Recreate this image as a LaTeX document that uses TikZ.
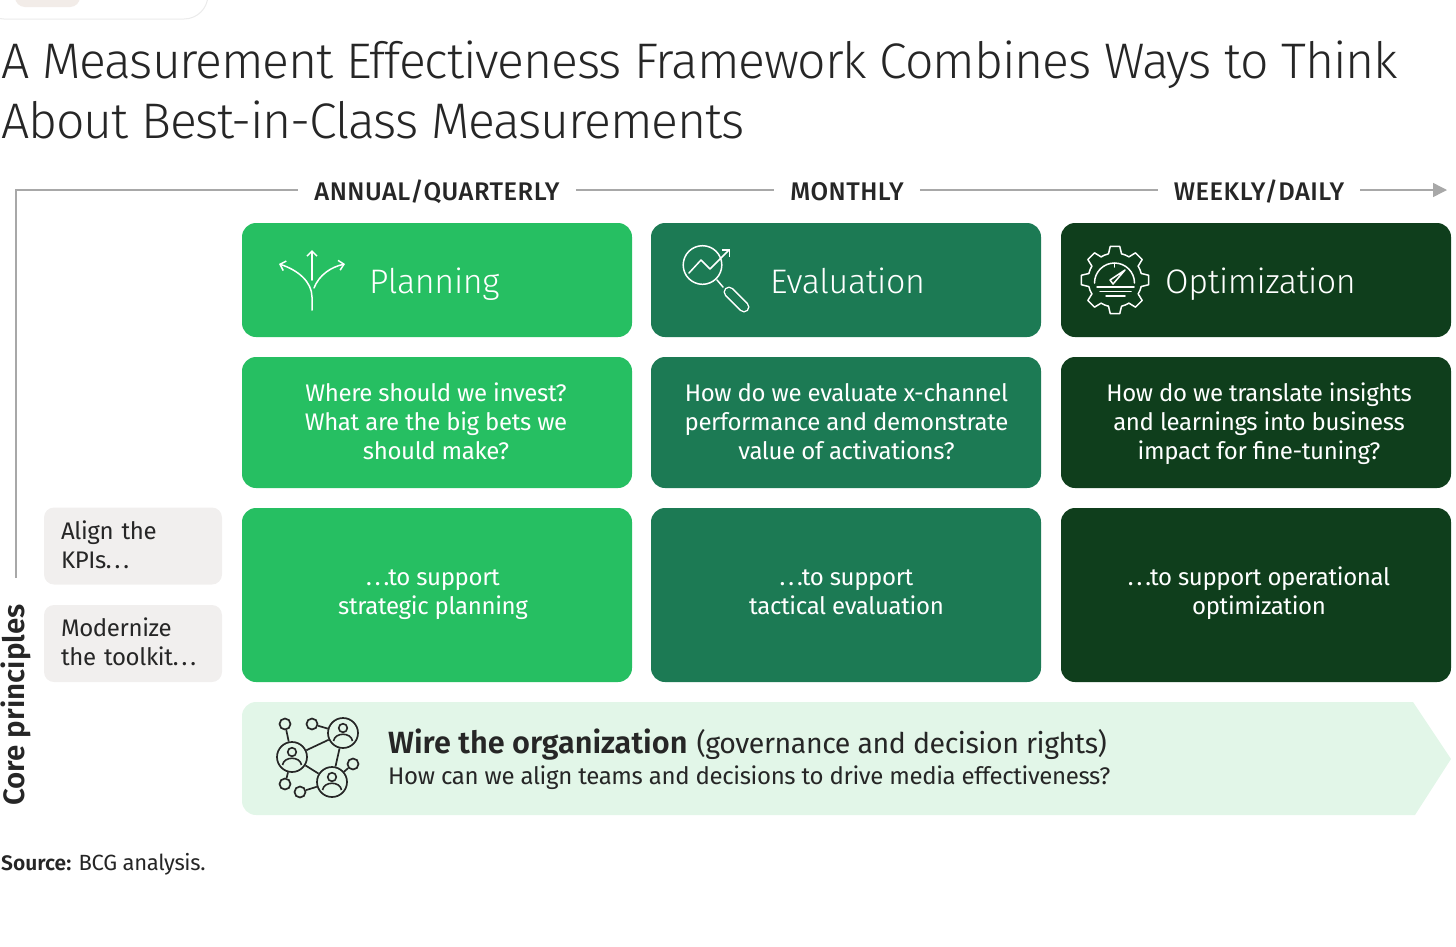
\documentclass[tikz,border=0pt]{standalone}
\usepackage{fontspec}
\usetikzlibrary{arrows.meta,calc,positioning}
\setmainfont[LetterSpace=-2.3]{Fira Sans Light}
\newfontfamily\headface[LetterSpace=-1.0]{Fira Sans Light}
\newfontfamily\boldface{Fira Sans SemiBold}
\newfontfamily\capsface[LetterSpace=2.0]{Fira Sans Medium}
\newfontfamily\regularface[LetterSpace=-1.5]{Fira Sans}
\definecolor{plangreen}{HTML}{26BF62}
\definecolor{evalgreen}{HTML}{1C7A54}
\definecolor{optgreen}{HTML}{0F3E1C}
\definecolor{wirefill}{HTML}{E2F6E8}
\definecolor{sidefill}{HTML}{F1EFEE}
\definecolor{cardfill}{HTML}{F2ECE8}
\definecolor{axisgray}{HTML}{A8A8A8}
\definecolor{inkdark}{HTML}{262626}
\newcommand{\fsize}[2]{\fontsize{#1}{#2}\selectfont}
\newcommand{\widedots}{.\kern3pt.\kern3pt.}
\tikzset{
    cell/.style={
        rounded corners=14pt,
        minimum width=390pt,
        inner sep=0pt
    },
    head cell/.style={cell, minimum height=114pt},
    ask cell/.style={cell, minimum height=131pt},
    goal cell/.style={cell, minimum height=174pt},
    cell text/.style={
        inner sep=0pt,
        align=center,
        text=white,
        font=\regularface\fsize{24}{29},
        execute at begin node=\strut,
        execute at end node=\strut
    },
    head label/.style={anchor=base west, inner sep=0pt, text=white, font=\headface\fsize{34}{38}},
    side box/.style={
        rounded corners=10pt,
        fill=sidefill,
        minimum width=178pt,
        minimum height=77pt,
        inner sep=0pt,
        inner xsep=17pt,
        text width=144pt,
        align=left,
        text=inkdark,
        font=\regularface\fsize{24}{29},
        execute at begin node={\rule{0pt}{24.5pt}},
        execute at end node=\strut
    },
    axis label/.style={inner sep=0pt, inner xsep=16pt, text=inkdark, font=\capsface\fsize{25.5}{26}},
    axis line/.style={axisgray, line width=1.4pt},
    icon line/.style={white, line width=1.5pt, line cap=round, line join=round},
    icon tip/.style={-{Straight Barb[length=5pt,width=10pt,line width=1.5pt]}},
    wire big/.style={circle, draw=inkdark, line width=1.7pt, minimum size=30pt, inner sep=0pt},
    wire small/.style={circle, draw=inkdark, line width=1.7pt, minimum size=11pt, inner sep=0pt},
    wire link/.style={inkdark, line width=1.7pt},
    person/.pic={
        \draw[inkdark, line width=1.6pt] (0,5) circle[radius=4.3];
        \draw[inkdark, line width=1.6pt] (-9.5,-8) .. controls (-8,1) and (8,1) .. (9.5,-8);
    }
}
\begin{document}
\begin{tikzpicture}[x=1pt,y=1pt]
    \useasboundingbox (0,0) rectangle (1456,-946);

    % clipped card at the top edge
    \begin{scope}
        \clip (0,0) rectangle (1456,-30);
        \draw[black!8, line width=1pt, rounded corners=24pt, fill=white] (-20,30) rectangle (208,-19);
        \fill[cardfill, rounded corners=10pt] (15,20) rectangle (80,-7);
    \end{scope}

    \node[anchor=base west, inner sep=0pt, text=inkdark, font=\fsize{50}{60}] (title1) at (1,-78) {A Measurement Effectiveness Framework Combines Ways to Think};
    \node[anchor=base west, inner sep=0pt, text=inkdark, font=\fsize{50}{60}] (title2) at (1,-138) {About Best-in-Class Measurements};

    % time axis
    \node[axis label, anchor=base] (annual) at (437,-200) {ANNUAL/QUARTERLY};
    \node[axis label, anchor=base] (monthly) at (847,-200) {MONTHLY};
    \node[axis label, anchor=base] (weekly) at (1259,-200) {WEEKLY/DAILY};
    \coordinate (axisstart) at (16,-578);
    \coordinate (axisbend) at (16,-190);
    \coordinate (axisend) at (1447,-190);
    \draw[axis line] (axisstart) -- (axisbend) -- (axisbend -| annual.west);
    \draw[axis line] (annual.east |- axisbend) -- (monthly.west |- axisbend);
    \draw[axis line] (monthly.east |- axisbend) -- (weekly.west |- axisbend);
    \draw[axis line, -{Triangle[length=14pt,width=14pt]}] (weekly.east |- axisbend) -- (axisend);

    % header row
    \node[head cell, fill=plangreen] (plan) at (437,-280) {};
    \node[head cell, fill=evalgreen] (eval) at (846,-280) {};
    \node[head cell, fill=optgreen] (opti) at (1256,-280) {};
    \node[head label] (planlabel) at (369,-293) {Planning};
    \node[head label] (evallabel) at (770,-293) {Evaluation};
    \node[head label] (optilabel) at (1165,-293) {Optimization};

    % question row
    \node[ask cell, fill=plangreen] (planask) at (437,-422.5) {};
    \node[ask cell, fill=evalgreen] (evalask) at (846,-422.5) {};
    \node[ask cell, fill=optgreen] (optiask) at (1256,-422.5) {};
    \node[cell text] (planasktext) at (436,-425.5) {Where should we invest?\\What are the big bets we\\should make?};
    \node[cell text] (evalasktext) at (846.5,-425.5) {How do we evaluate x-channel\\performance and demonstrate\\value of activations?};
    \node[cell text] (optiasktext) at (1259,-425.5) {How do we translate insights\\and learnings into business\\impact for fine-tuning?};

    % support row
    \node[goal cell, fill=plangreen] (plangoal) at (437,-595) {};
    \node[goal cell, fill=evalgreen] (evalgoal) at (846,-595) {};
    \node[goal cell, fill=optgreen] (optigoal) at (1256,-595) {};
    \node[cell text] (plangoaltext) at (433,-596.5) {\widedots to support\\strategic planning};
    \node[cell text] (evalgoaltext) at (846.5,-596.5) {\widedots to support\\tactical evaluation};
    \node[cell text] (optigoaltext) at (1259,-594.5) {\widedots to support operational\\optimization};

    % core principles
    \node[side box] (align) at (133,-546) {Align the\\KPIs\widedots};
    \node[side box] (modern) at (133,-643.5) {Modernize\\the toolkit\widedots};
    \node[rotate=90, anchor=base west, inner sep=0pt, text=inkdark, font=\boldface\fsize{29.5}{30}] (core) at (24,-806) {Core principles};

    % wire band
    \fill[wirefill, rounded corners=14pt] (500,-702) -- (242,-702) -- (242,-815) -- (500,-815)
        [sharp corners] -- (1415,-815) -- (1451,-759) -- (1413,-702) -- cycle;
    \node[anchor=base west, inner sep=0pt, text=inkdark, font=\regularface\fsize{28.5}{34}] (wirehead) at (388,-753) {{\boldface\fsize{30.7}{34}Wire the organization}\kern2pt{} (governance and decision rights)};
    \node[anchor=base west, inner sep=0pt, text=inkdark, font=\regularface\fsize{24}{29}] (wiretext) at (388,-784) {How can we align teams and decisions to drive media effectiveness?};

    % wire icon
    \node[wire big] (wirea) at (343,-733) {};
    \node[wire big] (wireb) at (292,-757) {};
    \node[wire big] (wirec) at (332,-782) {};
    \node[wire small] (wired) at (285,-724) {};
    \node[wire small] (wiree) at (312,-724) {};
    \node[wire small] (wiref) at (353,-764) {};
    \node[wire small] (wireg) at (285,-784) {};
    \node[wire small] (wireh) at (300,-792) {};
    \draw[wire link] (wired) -- (wireb);
    \draw[wire link] (wiree) -- (wirea);
    \draw[wire link] (wirea) -- (wireb);
    \draw[wire link] (wirea) -- (wirec);
    \draw[wire link] (wireb) -- (wirec);
    \draw[wire link] (wiref) -- (wirec);
    \draw[wire link] (wireg) -- (wireb);
    \draw[wire link] (wireh) -- (wirec);
    \pic at (wirea) {person};
    \pic at (wireb) {person};
    \pic at (wirec) {person};

    % planning icon
    \draw[icon line, icon tip] (312,-310) -- (312,-297) .. controls (312,-282) and (298,-270) .. (279,-264);
    \draw[icon line, icon tip] (312,-280) -- (312,-250);
    \draw[icon line, icon tip] (314,-288) .. controls (319,-275) and (331,-267) .. (345,-264);

    % evaluation icon
    \draw[icon line] (702.5,-265) circle[radius=19.3];
    \draw[icon line, icon tip] (689,-273) -- (701,-260) -- (710,-269) -- (730,-249);
    \draw[icon line] (717,-280) -- (723,-287);
    \draw[white, line width=11pt, line cap=round] (729,-292) -- (744,-307);
    \draw[evalgreen, line width=8pt, line cap=round] (729,-292) -- (744,-307);

    % optimization icon
    \begin{scope}[shift={(1115,-280)}]
        \foreach \a in {0,45,...,315} {
            \draw[icon line] (\a-14:27) -- (\a-8:34) -- (\a+8:34) -- (\a+14:27) arc[start angle=\a+14, end angle=\a+31, radius=27];
        }
        \draw[icon line] (-20.5,-3) arc[start angle=180, end angle=0, radius=20];
        \draw[icon line] (-0.5,17) -- (-0.5,13);
        \draw[icon line] (-18,-7) -- (19,-7);
        \draw[icon line] (-15,-11.5) -- (16,-11.5);
        \draw[icon line] (-9,-16) -- (10,-16);
        \draw[icon line] (-5,0) -- (10,10) -- (-2,-4) -- cycle;
    \end{scope}

    \node[anchor=base west, inner sep=0pt, text=inkdark, font=\regularface\fsize{22}{24}] (source) at (1,-870) {{\boldface\fsize{21}{24}Source:} BCG analysis.};
\end{tikzpicture}
\end{document}
